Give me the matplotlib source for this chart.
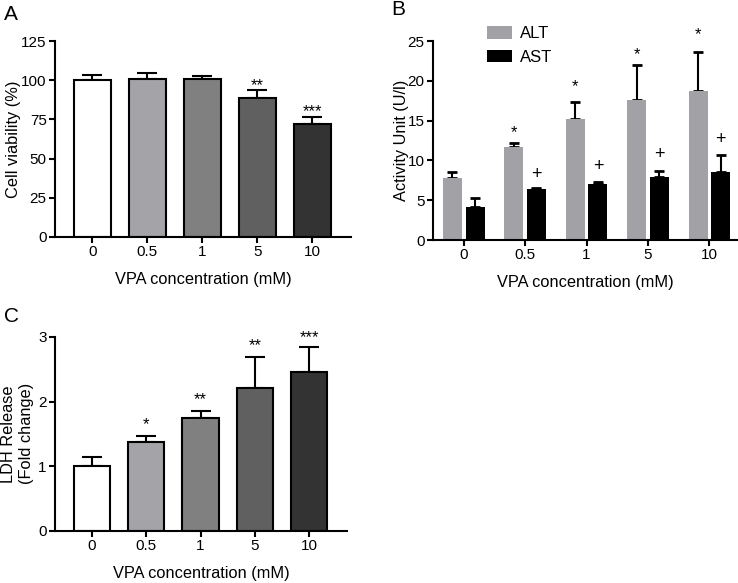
import matplotlib
matplotlib.use("Agg")
import matplotlib.pyplot as plt
import numpy as np

plt.rcParams["font.family"] = ["Liberation Sans", "DejaVu Sans"]

doses = ["0", "0.5", "1", "5", "10"]
bar_colors = ["#ffffff", "#a4a4a8", "#808080", "#606060", "#333333"]

# panel A
viability = [100, 101, 100.5, 88.5, 72]
viability_err = [3.5, 3.5, 2, 5, 4.5]
viability_marks = ["", "", "", "**", "***"]
viability_mark_y = [0, 0, 0, 100, 83]

# panel B
alt = [7.8, 11.7, 15.2, 17.6, 18.8]
alt_err = [0.8, 0.5, 2.2, 4.4, 4.9]
alt_marks = ["", "*", "*", "*", "*"]
alt_mark_y = [0, 14.1, 19.9, 23.9, 26.5]
ast = [4.2, 6.4, 7.1, 7.9, 8.6]
ast_err = [1.1, 0.2, 0.2, 0.8, 2.1]
ast_marks = ["", "+", "+", "+", "+"]
ast_mark_y = [0, 8.2, 9.3, 10.7, 12.6]

# panel C
ldh = [1.0, 1.38, 1.74, 2.21, 2.45]
ldh_err = [0.15, 0.09, 0.12, 0.48, 0.39]
ldh_marks = ["", "*", "**", "**", "***"]
ldh_mark_y = [0, 1.72, 2.10, 2.94, 3.06]


def style_axes(ax):
    for s in ["top", "right"]:
        ax.spines[s].set_visible(False)
    for s in ["left", "bottom"]:
        ax.spines[s].set_linewidth(1.5)
    ax.tick_params(width=1.5, length=4.5, labelsize=11, pad=1.5)


def put_mark(ax, xi, yi, m, size=12):
    # asterisks sit high in the glyph box, so pull them down a little
    dy = -3.5 if "*" in m else 0
    ax.annotate(m, (xi, yi), xytext=(0, dy), textcoords="offset points",
                ha="center", va="center", fontsize=size, annotation_clip=False)


def single_panel(ax, vals, errs, marks, mark_y, ylim, yticks):
    x = np.arange(len(doses))
    ax.bar(x, vals, width=0.67, color=bar_colors, edgecolor="black",
           linewidth=1.5, zorder=2)
    ax.errorbar(x, vals, yerr=[np.zeros(len(vals)), errs], fmt="none",
                ecolor="black", elinewidth=1.5, capsize=7, capthick=1.5, zorder=1)
    for xi, yi, m in zip(x, mark_y, marks):
        if m:
            put_mark(ax, xi, yi, m)
    ax.set_xlim(-0.68, 4.7)
    ax.set_ylim(*ylim)
    ax.set_yticks(yticks)
    ax.set_xticks(x)
    ax.set_xticklabels(doses)
    ax.set_xlabel("VPA concentration (mM)", fontsize=11.75, labelpad=9)
    style_axes(ax)


fig = plt.figure(figsize=(7.38, 5.83), dpi=100)

axA = fig.add_axes([0.0745, 0.5935, 0.401, 0.336])
single_panel(axA, viability, viability_err, viability_marks, viability_mark_y,
             (0, 125), [0, 25, 50, 75, 100, 125])
axA.set_ylabel("Cell viability (%)", fontsize=11.75)
axA.yaxis.set_label_coords(-0.115, 0.5)

axB = fig.add_axes([0.5867, 0.5883, 0.412, 0.341])
x = np.arange(len(doses))
off = 0.185
w = 0.31
axB.bar(x - off, alt, width=w, color="#a2a2a6", label="ALT", zorder=2)
axB.bar(x + off, ast, width=w, color="black", label="AST", zorder=2)
axB.errorbar(x - off, alt, yerr=[np.zeros(5), alt_err], fmt="none", ecolor="black",
             elinewidth=1.5, capsize=3.5, capthick=2, zorder=1)
axB.errorbar(x + off, ast, yerr=[np.zeros(5), ast_err], fmt="none", ecolor="black",
             elinewidth=1.5, capsize=3.5, capthick=2, zorder=1)
for xi, yi, m in zip(x, alt_mark_y, alt_marks):
    if m:
        put_mark(axB, xi - off, yi, m)
for xi, yi, m in zip(x, ast_mark_y, ast_marks):
    if m:
        put_mark(axB, xi + off, yi, m, size=13)
axB.set_xlim(-0.5, 4.45)
axB.set_ylim(0, 25)
axB.set_yticks([0, 5, 10, 15, 20, 25])
axB.set_xticks(x)
axB.set_xticklabels(doses)
axB.set_ylabel("Activity Unit (U/l)", fontsize=11.75)
axB.yaxis.set_label_coords(-0.079, 0.5)
axB.set_xlabel("VPA concentration (mM)", fontsize=11.75, labelpad=9)
style_axes(axB)
axB.legend(loc="upper left", bbox_to_anchor=(0.178, 1.075), frameon=False,
           fontsize=12, handlelength=1.5, handleheight=0.75, labelspacing=0.5,
           handletextpad=0.5, borderpad=0, borderaxespad=0)

axC = fig.add_axes([0.0745, 0.0892, 0.396, 0.333])
single_panel(axC, ldh, ldh_err, ldh_marks, ldh_mark_y, (0, 3), [0, 1, 2, 3])
axC.set_ylabel("LDH Release\n(Fold change)", fontsize=11.75, linespacing=1.2)
axC.yaxis.set_label_coords(-0.073, 0.5)

fig.text(0.005, 0.966, "A", fontsize=15)
fig.text(0.530, 0.974, "B", fontsize=15)
fig.text(0.005, 0.448, "C", fontsize=15)

fig.savefig("out.png", dpi=100)
